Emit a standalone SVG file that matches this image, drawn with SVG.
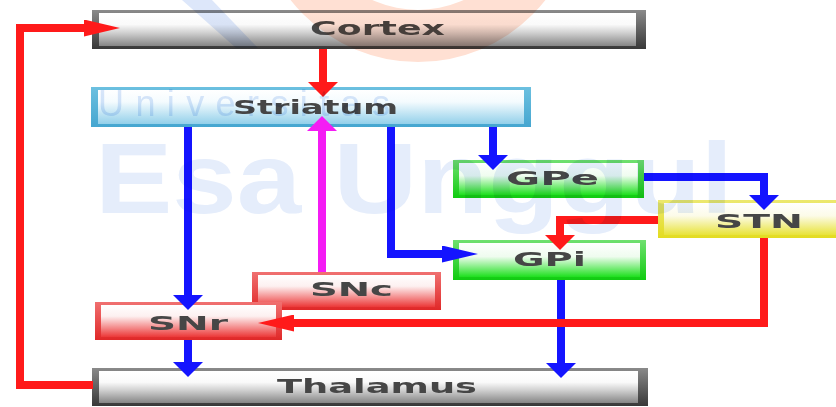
<svg xmlns="http://www.w3.org/2000/svg" width="836" height="407" viewBox="0 0 836 407">
  <defs>
    <style>
      .label { font-family: "DejaVu Sans", "Liberation Sans", sans-serif; font-weight: bold; font-size: 20px; fill: #464646; }
      .wire { fill: none; stroke-width: 8; stroke-linejoin: miter; }
      .red { stroke: #ff1a1a; }
      .blue { stroke: #1414ff; }
      .mag { stroke: #f41cf4; }
      .grey .frame { fill: url(#frameGrey); }
      .grey .face { fill: url(#faceGrey); }
      .cyan .frame { fill: url(#frameBlue); }
      .cyan .face { fill: url(#faceBlue); }
      .green .frame { fill: url(#frameGreen); }
      .green .face { fill: url(#faceGreen); }
      .yellow .frame { fill: url(#frameYellow); }
      .yellow .face { fill: url(#faceYellow); }
      .rose .frame { fill: url(#frameRed); }
      .rose .face { fill: url(#faceRed); }
      .mark { mix-blend-mode: multiply; }
    </style>

    <!-- box gradients -->
    <linearGradient id="faceGrey" x1="0" y1="0" x2="0" y2="1">
      <stop offset="0" stop-color="#ffffff"/>
      <stop offset="0.35" stop-color="#fafafa"/>
      <stop offset="0.6" stop-color="#d0d0d0"/>
      <stop offset="1" stop-color="#858585"/>
    </linearGradient>
    <linearGradient id="frameGrey" x1="0" y1="0" x2="0" y2="1">
      <stop offset="0" stop-color="#8a8a8a"/>
      <stop offset="1" stop-color="#383838"/>
    </linearGradient>
    <linearGradient id="faceBlue" x1="0" y1="0" x2="0" y2="1">
      <stop offset="0" stop-color="#ffffff"/>
      <stop offset="0.35" stop-color="#f4fbfe"/>
      <stop offset="1" stop-color="#93d0ea"/>
    </linearGradient>
    <linearGradient id="frameBlue" x1="0" y1="0" x2="0" y2="1">
      <stop offset="0" stop-color="#6cc0e0"/>
      <stop offset="1" stop-color="#45a6d0"/>
    </linearGradient>
    <linearGradient id="faceGreen" x1="0" y1="0" x2="0" y2="1">
      <stop offset="0" stop-color="#ffffff"/>
      <stop offset="0.4" stop-color="#effcef"/>
      <stop offset="1" stop-color="#1ee01e"/>
    </linearGradient>
    <linearGradient id="frameGreen" x1="0" y1="0" x2="0" y2="1">
      <stop offset="0" stop-color="#70e070"/>
      <stop offset="1" stop-color="#10cc10"/>
    </linearGradient>
    <linearGradient id="faceYellow" x1="0" y1="0" x2="0" y2="1">
      <stop offset="0" stop-color="#ffffff"/>
      <stop offset="0.4" stop-color="#fcfbe8"/>
      <stop offset="1" stop-color="#e8e338"/>
    </linearGradient>
    <linearGradient id="frameYellow" x1="0" y1="0" x2="0" y2="1">
      <stop offset="0" stop-color="#ece870"/>
      <stop offset="1" stop-color="#e3dc20"/>
    </linearGradient>
    <linearGradient id="faceRed" x1="0" y1="0" x2="0" y2="1">
      <stop offset="0" stop-color="#ffffff"/>
      <stop offset="0.35" stop-color="#fdf0f0"/>
      <stop offset="1" stop-color="#ec3838"/>
    </linearGradient>
    <linearGradient id="frameRed" x1="0" y1="0" x2="0" y2="1">
      <stop offset="0" stop-color="#f07070"/>
      <stop offset="1" stop-color="#e02828"/>
    </linearGradient>

    <!-- arrowheads: V = short heads on vertical runs, H = long heads on horizontal runs -->
    <marker id="redV" viewBox="0 0 15 30" markerWidth="15" markerHeight="30" refX="0" refY="15" orient="auto" markerUnits="userSpaceOnUse">
      <polygon points="0,0 15,15 0,30" fill="#ff1a1a"/>
    </marker>
    <marker id="redH" viewBox="0 0 36 17" markerWidth="36" markerHeight="17" refX="0" refY="8.5" orient="auto" markerUnits="userSpaceOnUse">
      <polygon points="0,0 36,8.5 0,17" fill="#ff1a1a"/>
    </marker>
    <marker id="blueV" viewBox="0 0 15 30" markerWidth="15" markerHeight="30" refX="0" refY="15" orient="auto" markerUnits="userSpaceOnUse">
      <polygon points="0,0 15,15 0,30" fill="#1414ff"/>
    </marker>
    <marker id="blueH" viewBox="0 0 36 17" markerWidth="36" markerHeight="17" refX="0" refY="8.5" orient="auto" markerUnits="userSpaceOnUse">
      <polygon points="0,0 36,8.5 0,17" fill="#1414ff"/>
    </marker>
    <marker id="magV" viewBox="0 0 15 30" markerWidth="15" markerHeight="30" refX="0" refY="15" orient="auto" markerUnits="userSpaceOnUse">
      <polygon points="0,0 15,15 0,30" fill="#f41cf4"/>
    </marker>
  </defs>

  <rect width="836" height="407" fill="#ffffff"/>

  <!-- nodes -->
  <g id="cortex" class="grey">
    <rect class="frame" x="92" y="10" width="554" height="39"/>
    <rect class="face" x="99" y="13" width="537" height="33"/>
    <text class="label" x="310" y="35" textLength="135" lengthAdjust="spacingAndGlyphs">Cortex</text>
  </g>
  <g id="striatum" class="cyan">
    <rect class="frame" x="91" y="87" width="440" height="40"/>
    <rect class="face" x="98" y="90" width="426" height="34"/>
    <text class="label" x="233" y="114" textLength="165" lengthAdjust="spacingAndGlyphs">Striatum</text>
  </g>
  <g id="gpe" class="green">
    <rect class="frame" x="453" y="160" width="191" height="38"/>
    <rect class="face" x="459" y="163" width="179" height="32"/>
    <text class="label" x="506" y="185" textLength="93" lengthAdjust="spacingAndGlyphs">GPe</text>
  </g>
  <g id="stn" class="yellow">
    <rect class="frame" x="658" y="200" width="190" height="38"/>
    <rect class="face" x="664" y="203" width="184" height="32"/>
    <text class="label" x="715" y="228" textLength="88" lengthAdjust="spacingAndGlyphs">STN</text>
  </g>
  <g id="gpi" class="green">
    <rect class="frame" x="453" y="240" width="193" height="40"/>
    <rect class="face" x="459" y="243" width="181" height="34"/>
    <text class="label" x="513" y="266" textLength="73" lengthAdjust="spacingAndGlyphs">GPi</text>
  </g>
  <g id="snc" class="rose">
    <rect class="frame" x="252" y="272" width="189" height="38"/>
    <rect class="face" x="258" y="275" width="177" height="32"/>
    <text class="label" x="310" y="296" textLength="83" lengthAdjust="spacingAndGlyphs">SNc</text>
  </g>
  <g id="snr" class="rose">
    <rect class="frame" x="95" y="302" width="187" height="38"/>
    <rect class="face" x="101" y="305" width="175" height="32"/>
    <text class="label" x="148" y="330" textLength="80" lengthAdjust="spacingAndGlyphs">SNr</text>
  </g>
  <g id="thalamus" class="grey">
    <rect class="frame" x="92" y="368" width="556" height="38"/>
    <rect class="face" x="99" y="371" width="539" height="32"/>
    <text class="label" x="277" y="393" textLength="200" lengthAdjust="spacingAndGlyphs">Thalamus</text>
  </g>

  <!-- connectors -->
  <g id="connectors">
    <path class="wire red" d="M 93 385 H 20 V 28 H 84" marker-end="url(#redH)"/>
    <path class="wire red" d="M 323 49 V 82" marker-end="url(#redV)"/>
    <path class="wire mag" d="M 322 272 V 131" marker-end="url(#magV)"/>
    <path class="wire blue" d="M 188 127 V 295" marker-end="url(#blueV)"/>
    <path class="wire blue" d="M 391 127 V 254 H 442" marker-end="url(#blueH)"/>
    <path class="wire blue" d="M 493 127 V 155" marker-end="url(#blueV)"/>
    <path class="wire blue" d="M 644 177 H 764 V 195" marker-end="url(#blueV)"/>
    <path class="wire blue" d="M 561 280 V 363" marker-end="url(#blueV)"/>
    <path class="wire blue" d="M 188 340 V 362" marker-end="url(#blueV)"/>
    <path class="wire red" d="M 658 220 H 560 V 235" marker-end="url(#redV)"/>
    <path class="wire red" d="M 764 238 V 323 H 294" marker-end="url(#redH)"/>
  </g>

  <!-- faint institutional watermark -->
  <g id="watermark" class="mark">
    <path d="M 256 -100 A 162 162 0 0 0 580 -100 L 528 -100 A 110 110 0 0 1 308 -100 Z" fill="#ffe0d3"/>
    <polygon points="182,0 212,0 258,48 236,48" fill="#dde7fa"/>
    <text x="98" y="116" font-family="Liberation Sans, sans-serif" font-size="36" fill="#d9e6f9" textLength="292">Universitas</text>
    <text x="95" y="213" font-family="Liberation Sans, sans-serif" font-weight="bold" font-size="100" fill="#e5edfb" textLength="638" lengthAdjust="spacingAndGlyphs">Esa Unggul</text>
  </g>
</svg>
